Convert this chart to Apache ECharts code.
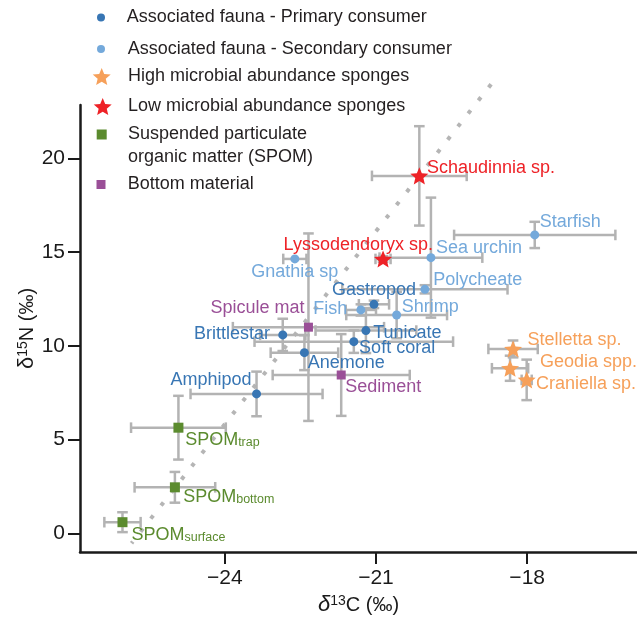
<!DOCTYPE html>
<html><head><meta charset="utf-8">
<script src="https://cdn.jsdelivr.net/npm/echarts@6/dist/echarts.min.js"></script>
<style>html,body{margin:0;padding:0;background:#fff}#c{width:637px;height:621px}</style>
</head><body><div id="c"></div>
<script>
// ---------- data ----------
const primaryNames = ['Gastropod','Tunicate','Soft coral','Brittlestar','Anemone','Amphipod'];
const primaryX    = [-21.04,-21.20,-21.44,-22.85,-22.42,-23.37];
const primaryY    = [12.22,10.82,10.23,10.59,9.64,7.44];
const primaryXErr = [0.30,1.00,1.97,0.45,0.67,1.31];
const primaryYErr = [0.20,1.20,0.60,0.86,0.93,1.19];

const secondaryNames = ['Starfish','Sea urchin','Gnathia sp','Polycheate','Fish','Shrimp'];
const secondaryX    = [-17.85,-19.91,-22.61,-20.03,-21.30,-20.59];
const secondaryY    = [15.92,14.71,14.64,13.02,11.92,11.65];
const secondaryXErr = [1.60,1.02,0.23,1.64,0.30,1.00];
const secondaryYErr = [0.70,3.20,0,0.22,0.30,1.24];

const highNames = ['Stelletta sp.','Geodia spp.','Craniella sp.'];
const highX    = [-18.28,-18.34,-18.01];
const highY    = [9.84,8.81,8.19];
const highXErr = [0.49,0.36,0.10];
const highYErr = [0.45,0.67,1.08];

const lowNames = ['Schaudinnia sp.','Lyssodendoryx sp.'];
const lowX    = [-20.14,-20.86];
const lowY    = [19.07,14.64];
const lowXErr = [0.94,0.15];
const lowYErr = [2.65,0.15];

const spomNames = ['SPOM trap','SPOM bottom','SPOM surface'];
const spomX    = [-24.92,-24.99,-26.03];
const spomY    = [5.64,2.46,0.60];
const spomXErr = [0.94,0.80,0.36];
const spomYErr = [1.70,0.82,0.53];

const bottomNames = ['Spicule mat','Sediment'];
const bottomX    = [-22.34,-21.69];
const bottomY    = [11.00,8.45];
const bottomXErr = [1.50,1.36];
const bottomYErr = [5.00,2.18];

const trendX = [-25.85,-18.68];
const trendY = [-0.52,24.08];

const xTicks = [-24,-21,-18];
const yTicks = [0,5,10,15,20];

const seriesNames = [
  'Associated fauna - Primary consumer',
  'Associated fauna - Secondary consumer',
  'High microbial abundance sponges',
  'Low microbial abundance sponges',
  'Suspended particulate organic matter (SPOM)',
  'Bottom material'
];
const spomLegendLines = ['Suspended particulate', 'organic matter (SPOM)'];

// ---------- styling / layout ----------
const FF = '"Liberation Sans", Arial, Helvetica, sans-serif';
const STAR = 'path://M50 0 L63.2 31.8 L97.6 34.5 L71.4 57 L79.4 90.5 L50 72.5 L20.6 90.5 L28.6 57 L2.4 34.5 L36.8 31.8 Z';
const C = {
  primary:'#3876b4', secondary:'#74a9db', high:'#f6a05a', low:'#ee2227', spom:'#5b8b2e', bottom:'#9a4f97',
  axis:'#1a1a1a', err:'#b3b3b3', dots:'#b5b5b5', text:'#231f20'
};
const labelLayout = {
  'Gastropod':['center',0,-14.3], 'Tunicate':['left',7.3,2.6], 'Soft coral':['left',5.3,6.7],
  'Brittlestar':['right',-12.7,-0.7], 'Anemone':['left',3.3,10], 'Amphipod':['right',-5,-14],
  'Starfish':['left',5,-12.6], 'Sea urchin':['left',5,-9.4], 'Gnathia sp':['center',0,13.4],
  'Polycheate':['left',8.3,-9.3], 'Fish':['right',-13.7,-0.7], 'Shrimp':['left',5,-8.3],
  'Stelletta sp.':['left',14.4,-9], 'Geodia spp.':['left',30,-6], 'Craniella sp.':['left',9.3,4.3],
  'Schaudinnia sp.':['left',7.7,-8], 'Lyssodendoryx sp.':['center',-24.8,-14],
  'SPOM trap':['left',6.7,12.3], 'SPOM bottom':['left',8.3,10], 'SPOM surface':['left',9,12.7],
  'Spicule mat':['right',-4,-19], 'Sediment':['left',4,11.7]
};

function makeScatter(name, names, xs, ys, symbol, size, color, rich) {
  return {
    type:'scatter', name, symbol, symbolSize:size, symbolKeepAspect:true, z:3,
    itemStyle:{color, opacity:1},
    emphasis:{disabled:true},
    data: names.map((n,i)=>{
      const L = labelLayout[n];
      return {name:n, value:[xs[i],ys[i]], label:{align:L[0], offset:[L[1],L[2]]}};
    }),
    label:{
      show:true, position:'inside', verticalAlign:'middle', color, fontSize:18, fontFamily:FF,
      textBorderWidth:0,
      formatter: rich ? (p=>{const s=p.name.split(' '); return '{m|'+s[0]+'}{s|'+s[1]+'}';}) : (p=>p.name),
      rich: rich ? {m:{fontSize:18,color,fontFamily:FF}, s:{fontSize:12.5,color,fontFamily:FF,verticalAlign:'bottom'}} : undefined
    }
  };
}

const groups = [
  [primaryX,primaryY,primaryXErr,primaryYErr],
  [secondaryX,secondaryY,secondaryXErr,secondaryYErr],
  [highX,highY,highXErr,highYErr],
  [lowX,lowY,lowXErr,lowYErr],
  [spomX,spomY,spomXErr,spomYErr],
  [bottomX,bottomY,bottomXErr,bottomYErr]
];
const errData = [];
groups.forEach(g=>g[0].forEach((v,i)=>errData.push([v,g[1][i],g[2][i],g[3][i]])));

function legendItem(name, icon, w, h, left, top, padLeft, extra) {
  return Object.assign({
    data:[name], left, top, padding:0, icon, itemWidth:w, itemHeight:h, selectedMode:false,
    textStyle:{fontSize:18, fontFamily:FF, color:C.text, lineHeight:20, padding:[0,0,0,padLeft]}
  }, extra||{});
}

const option = {
  animation:false,
  backgroundColor:'#fff',
  grid:{left:80, right:0, top:105, bottom:69, containLabel:false, outerBoundsMode:'none'},
  legend:[
    legendItem(seriesNames[0],'circle',8,8,97,17.5-10,16.7),
    legendItem(seriesNames[1],'circle',8,8,97,49-10,17.7),
    legendItem(seriesNames[2],STAR,18,18,92.7,76.5-10,12.3),
    legendItem(seriesNames[3],STAR,18,18,93.7,106.5-10,11.3),
    legendItem(seriesNames[4],'rect',10,10,96.7,134.5-10,16.3,{formatter:()=>spomLegendLines[0]}),
    legendItem(seriesNames[5],'rect',9,9,96.5,184.5-10,17.2)
  ],
  graphic:[{
    type:'text', left:128, top:157-10, silent:true,
    style:{text:spomLegendLines[1], fontSize:18, fontFamily:FF, fill:C.text, lineHeight:20}
  }],
  xAxis:{
    type:'value', min:-26.873, max:-15.821,
    axisLine:{show:true, onZero:false, lineStyle:{color:C.axis, width:2.5}},
    axisTick:{show:true, length:12, customValues:xTicks, lineStyle:{color:C.axis, width:2}},
    axisLabel:{customValues:xTicks, fontSize:21, fontFamily:FF, color:C.axis, margin:16,
      formatter:v=>String(v).replace('-','\u2212')},
    splitLine:{show:false},
    name:'{i|δ}{s|13}{n|C (‰)}', nameLocation:'middle', nameGap:42, nameMoveOverlap:false,
    nameTextStyle:{fontFamily:FF, color:C.axis, fontSize:21, rich:{
      i:{fontStyle:'italic', fontSize:22, fontFamily:FF, color:C.axis},
      s:{fontSize:14, fontFamily:FF, color:C.axis, verticalAlign:'top'},
      n:{fontSize:20, fontFamily:FF, color:C.axis}}}
  },
  yAxis:{
    type:'value', min:-0.99, max:22.85,
    axisLine:{show:true, onZero:false, lineStyle:{color:C.axis, width:2.5}},
    axisTick:{show:true, length:12, customValues:yTicks, lineStyle:{color:C.axis, width:2}},
    axisLabel:{customValues:yTicks, fontSize:21, fontFamily:FF, color:C.axis, margin:15},
    splitLine:{show:false},
    name:'{i|δ}{s|15}{n|N (‰)}', nameLocation:'middle', nameGap:42, nameMoveOverlap:false,
    nameTextStyle:{fontFamily:FF, color:C.axis, fontSize:21, rich:{
      i:{fontSize:22, fontFamily:FF, color:C.axis},
      s:{fontSize:14, fontFamily:FF, color:C.axis, verticalAlign:'top'},
      n:{fontSize:20, fontFamily:FF, color:C.axis}}}
  },
  series:[
    {type:'line', name:'trend', data:trendX.map((x,i)=>[x,trendY[i]]), symbol:'none', clip:false, z:0, silent:true,
      lineStyle:{color:C.dots, width:4, type:[4,12.6], dashOffset:2, cap:'butt'}},
    {type:'custom', name:'errors', z:1, silent:true, data:errData, encode:{x:0,y:1}, clip:false,
      renderItem:(params, api)=>{
        const x=api.value(0), y=api.value(1), xe=api.value(2), ye=api.value(3);
        const st={stroke:C.err, lineWidth:2.5};
        const ch=[]; const cap=5.3;
        const L=(x1,y1,x2,y2)=>ch.push({type:'line', shape:{x1,y1,x2,y2}, style:st});
        if (xe>0) {
          const a=api.coord([x-xe,y]), b=api.coord([x+xe,y]);
          L(a[0],a[1],b[0],b[1]); L(a[0],a[1]-cap,a[0],a[1]+cap); L(b[0],b[1]-cap,b[0],b[1]+cap);
        }
        if (ye>0) {
          const a=api.coord([x,y-ye]), b=api.coord([x,y+ye]);
          L(a[0],a[1],b[0],b[1]); L(a[0]-cap,a[1],a[0]+cap,a[1]); L(b[0]-cap,b[1],b[0]+cap,b[1]);
        }
        return {type:'group', children:ch};
      }},
    makeScatter(seriesNames[0], primaryNames, primaryX, primaryY, 'circle', 9, C.primary),
    makeScatter(seriesNames[1], secondaryNames, secondaryX, secondaryY, 'circle', 9, C.secondary),
    makeScatter(seriesNames[2], highNames, highX, highY, STAR, 18, C.high),
    makeScatter(seriesNames[3], lowNames, lowX, lowY, STAR, 18, C.low),
    makeScatter(seriesNames[4], spomNames, spomX, spomY, 'rect', 10, C.spom, true),
    makeScatter(seriesNames[5], bottomNames, bottomX, bottomY, 'rect', 9, C.bottom)
  ]
};
const chart = echarts.init(document.getElementById('c'), null, {renderer:'canvas'});
chart.setOption(option);
</script></body></html>
